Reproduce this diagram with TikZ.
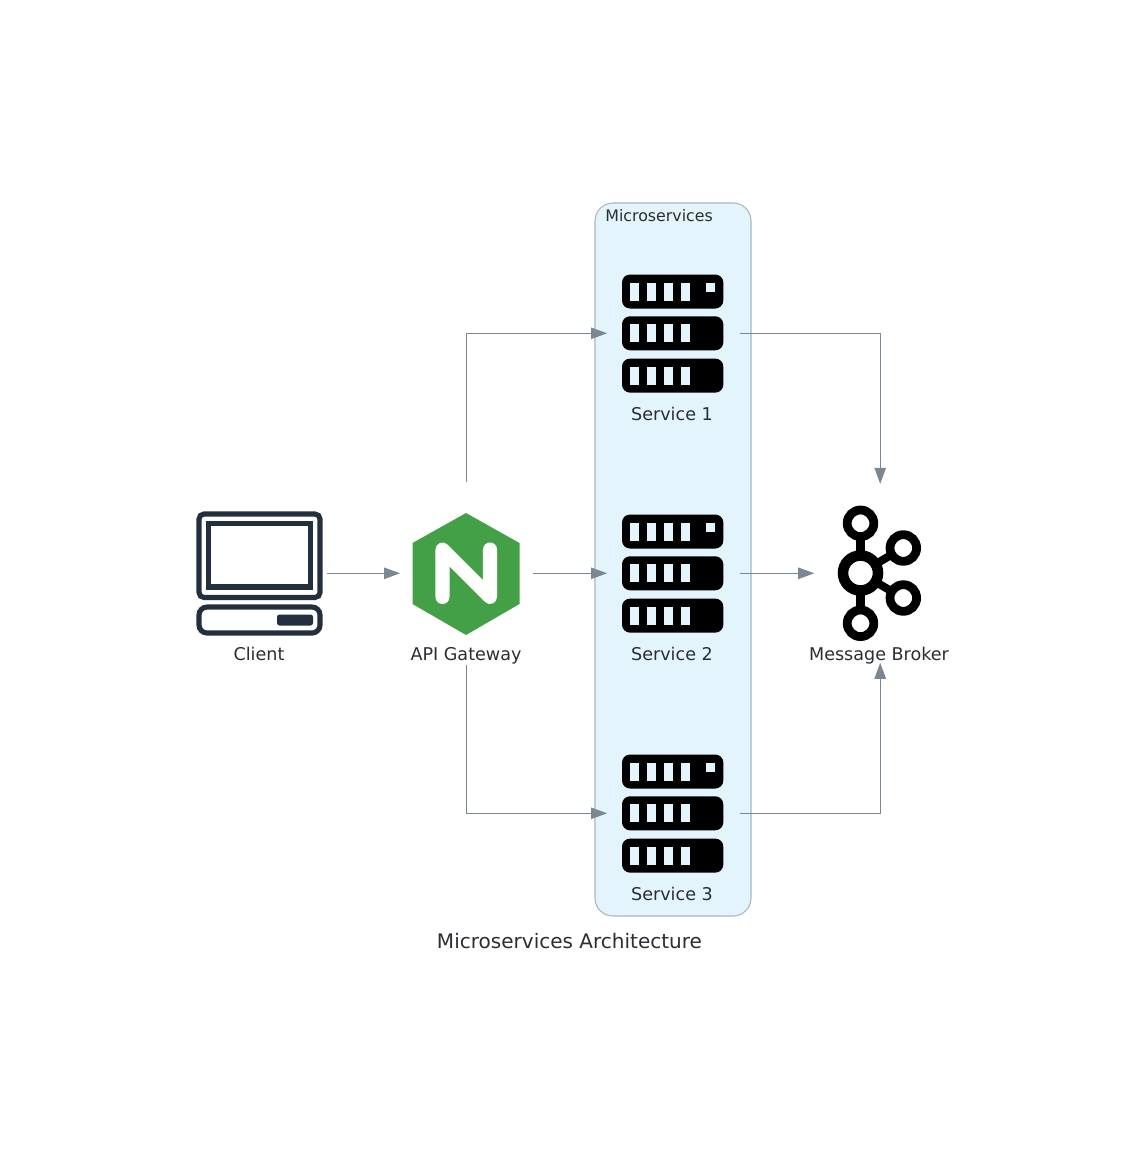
\documentclass[tikz,border=0pt]{standalone}
\usepackage{fontspec}
\setmainfont{DejaVu Sans}
\usetikzlibrary{arrows.meta}
\definecolor{flowgray}{HTML}{7B8894}
\definecolor{groupfill}{HTML}{E3F4FC}
\definecolor{groupline}{HTML}{A9B6C0}
\definecolor{inkdark}{HTML}{2A2E33}
\definecolor{clientblue}{HTML}{232F3E}
\definecolor{nginxgreen}{HTML}{43A047}
\tikzset{
	slot/.style = {minimum width = 2.66cm, minimum height = 3.66cm, inner sep = 0, outer sep = 0},
	tag/.style = {text = inkdark, font = \fontsize{10}{12}\selectfont, inner sep = 0, anchor = base},
	flow/.style = {flowgray, line width = 0.55pt, -{Triangle[length = 0.32cm, width = 0.23cm]}},
	rack/.pic = {
		\foreach \row in {-41.8,0,42.3} {
			\fill[black, rounded corners = 0.16cm] (-51,\row-17) rectangle (50.3,\row+17);
			\foreach \hole in {-43,-26,-9,8} {
				\fill[groupfill] (\hole,\row-9) rectangle (\hole+9,\row+9);
			}
		}
		\fill[groupfill] (33,-50.7) rectangle (42,-41.5);
	}
}
\begin{document}
\begin{tikzpicture}[x = 0.02cm, y = -0.02cm]
	\useasboundingbox (0,0) rectangle (1139,1152);
	% group box
	\draw[groupline, fill = groupfill, line width = 0.6pt, rounded corners = 0.36cm] (595,203) rectangle (751,916);
	\node[tag, anchor = base west, font = \fontsize{9}{11}\selectfont] (grouplabel) at (605,221) {Microservices};
	% stand-ins the arrows attach to
	\node[slot] (client) at (260.5,573.3) {};
	\node[slot] (gateway) at (466.5,573.3) {};
	\node[slot, minimum width = 2.64cm, minimum height = 3.58cm] (broker) at (880.2,573.3) {};
	\foreach \name/\ypos/\lab in {serviceA/333.3/Service 1, serviceB/573.3/Service 2, serviceC/813.3/Service 3} {
		\node[slot] (\name) at (673.5,\ypos) {};
		\pic at (673,\ypos) {rack};
		\node[tag] (\name label) at (672,\ypos+87.5) {\lab};
	}
	% client
	\draw[clientblue, line width = 2.9pt, rounded corners = 0.1cm] (199,514) rectangle (320,597.5);
	\draw[clientblue, line width = 2.9pt] (208.5,523.5) rectangle (310.5,587);
	\draw[clientblue, line width = 2.9pt, rounded corners = 0.16cm] (199,607) rectangle (320,633);
	\fill[clientblue, rounded corners = 0.05cm] (277,614.5) rectangle (313,625.5);
	\node[tag] (clientlabel) at (259,660.8) {Client};
	% gateway
	\fill[nginxgreen] (466,513) -- (519.5,543) -- (519.5,604) -- (466,635) -- (412.5,604) -- (412.5,543) -- cycle;
	\draw[white, line width = 8pt, line cap = round, line join = round] (442.5,597) -- (442.5,549.5) -- (490,597) -- (490,549.5);
	\node[tag] (gatewaylabel) at (466,660.8) {API Gateway};
	% broker
	\draw[black, line width = 4.6pt] (860.5,523) -- (860.5,623);
	\draw[black, line width = 4.6pt] (860.5,573) -- (903,548);
	\draw[black, line width = 4.6pt] (860.5,573) -- (903,598);
	\draw[black, fill = white, line width = 6pt] (860.5,573) circle (17.5);
	\foreach \cx/\cy in {860.5/523.3, 903.3/548, 903.3/598, 860.5/623.3} {
		\draw[black, fill = white, line width = 5pt] (\cx,\cy) circle (13.3);
	}
	\node[tag] (brokerlabel) at (879,660.8) {Message Broker};
	% arrows
	\draw[flow] (client.east) -- (gateway.west);
	\draw[flow] (gateway.north) |- (serviceA.west);
	\draw[flow] (gateway.east) -- (serviceB.west);
	\draw[flow] (gateway.south) |- (serviceC.west);
	\draw[flow] (serviceA.east) -| (broker.north);
	\draw[flow] (serviceB.east) -- (broker.west);
	\draw[flow] (serviceC.east) -| (broker.south);
	\node[tag, font = \fontsize{11.4}{14}\selectfont] (title) at (569.5,948) {Microservices Architecture};
\end{tikzpicture}
\end{document}
